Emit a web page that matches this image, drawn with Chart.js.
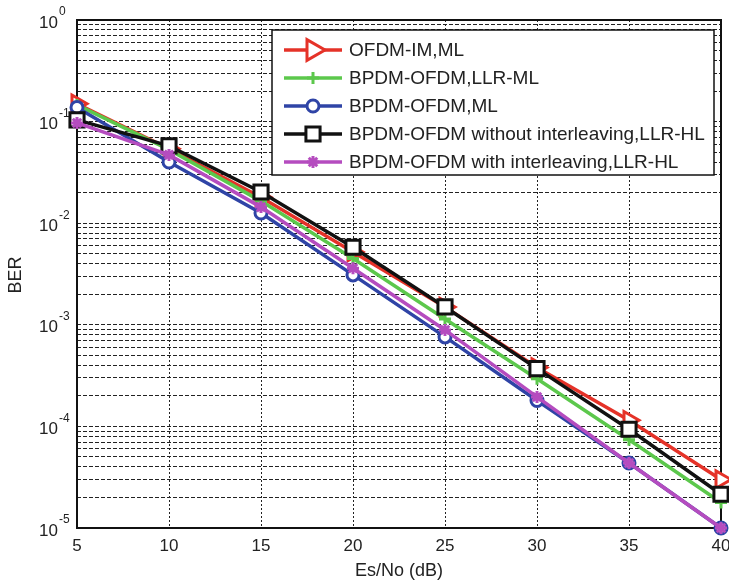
<!DOCTYPE html>
<html lang="en">
<head>
    <meta charset="UTF-8">
    <title>BER vs Es/No</title>
    <script src="https://cdn.jsdelivr.net/npm/chart.js@4/dist/chart.umd.min.js"></script>
    <style>
        body { margin: 0; background: #fff; }
        canvas { display: block; }
    </style>
</head>
<body>
    <canvas id="berChart" width="729" height="586"></canvas>

    <script>
        // data
        const snrDb = [5, 10, 15, 20, 25, 30, 35, 40];
        const seriesNames = [
            "OFDM-IM,ML",
            "BPDM-OFDM,LLR-ML",
            "BPDM-OFDM,ML",
            "BPDM-OFDM without interleaving,LLR-HL",
            "BPDM-OFDM with interleaving,LLR-HL"
        ];
        const berOfdmIm   = [0.150, 0.054, 0.018, 0.0052, 0.0015, 0.00038, 0.000115, 0.000030];
        const berLlrMl    = [0.146, 0.053, 0.0165, 0.0045, 0.00114, 0.000294, 0.000074, 0.0000178];
        const berMl       = [0.138, 0.040, 0.0126, 0.0031, 0.00076, 0.00018, 0.0000436, 0.000010];
        const berNoIntlv  = [0.104, 0.0576, 0.0203, 0.0058, 0.0015, 0.00037, 0.0000937, 0.0000215];
        const berIntlv    = [0.097, 0.047, 0.0144, 0.0036, 0.00089, 0.000195, 0.0000436, 0.000010];
        const xTicks = [5, 10, 15, 20, 25, 30, 35, 40];
        const yDecades = [0, -1, -2, -3, -4, -5];

        const FONT = '"Liberation Sans", Arial, sans-serif';

        const toPoints = ys => snrDb.map((x, i) => ({ x: x, y: ys[i] }));

        const styles = [
            { color: '#e53228', point: 'triangle', rot: 90, r: 10, fill: '#fff' },
            { color: '#5cc84c', point: 'cross', rot: 0, r: 6, fill: '#5cc84c' },
            { color: '#2f44a6', point: 'circle', rot: 0, r: 6, fill: '#fff' },
            { color: '#111111', point: 'rect', rot: 0, r: 10, fill: '#fff' },
            { color: '#b54cbf', point: 'star', rot: 0, r: 6, fill: '#b54cbf' }
        ];
        const allSeries = [berOfdmIm, berLlrMl, berMl, berNoIntlv, berIntlv];

        const datasets = allSeries.map((ys, i) => ({
            label: seriesNames[i],
            data: toPoints(ys),
            borderColor: styles[i].color,
            backgroundColor: styles[i].color,
            borderWidth: 3.5,
            pointStyle: styles[i].point,
            pointRotation: styles[i].rot,
            pointRadius: styles[i].r,
            pointBorderWidth: 3,
            pointBorderColor: styles[i].color,
            pointBackgroundColor: styles[i].fill,
            tension: 0,
            clip: false,
            order: 5 - i   // later series on top like matlab
        }));

        // frame, y labels, axis titles and legend
        const decor = {
            id: 'decor',
            beforeDatasetsDraw(chart) {
                const ctx = chart.ctx;
                const a = chart.chartArea;
                ctx.save();
                ctx.strokeStyle = '#111';
                ctx.lineWidth = 2;
                ctx.strokeRect(a.left, a.top, a.right - a.left, a.bottom - a.top);
                ctx.restore();
            },
            afterDatasetsDraw(chart) {
                const ctx = chart.ctx;
                const a = chart.chartArea;
                const ys = chart.scales.y;
                ctx.save();

                // y tick labels 10^k
                ctx.fillStyle = '#222';
                ctx.textBaseline = 'middle';
                yDecades.forEach(k => {
                    const py = ys.getPixelForValue(Math.pow(10, k));
                    ctx.font = '17px ' + FONT;
                    ctx.textAlign = 'left';
                    ctx.fillText('10', 39, py + 3);
                    ctx.font = '12px ' + FONT;
                    ctx.fillText(k === 0 ? '0' : '-' + Math.abs(k), 59, py - 8);
                });

                // axis titles
                ctx.font = '18px ' + FONT;
                ctx.textAlign = 'center';
                ctx.fillText('Es/No (dB)', (a.left + a.right) / 2, 571);
                ctx.save();
                ctx.translate(16, 275);
                ctx.rotate(-Math.PI / 2);
                ctx.fillText('BER', 0, 0);
                ctx.restore();

                // legend
                const lx = 272, ly = 30, lw = 442, lh = 145;
                ctx.fillStyle = '#fff';
                ctx.fillRect(lx, ly, lw, lh);
                ctx.strokeStyle = '#111';
                ctx.lineWidth = 1.5;
                ctx.strokeRect(lx, ly, lw, lh);
                chart.data.datasets.forEach((ds, i) => {
                    const cy = 50 + i * 28;
                    ctx.strokeStyle = ds.borderColor;
                    ctx.lineWidth = 3.5;
                    ctx.beginPath();
                    ctx.moveTo(284, cy);
                    ctx.lineTo(342, cy);
                    ctx.stroke();
                    ctx.fillStyle = ds.pointBackgroundColor;
                    ctx.strokeStyle = ds.borderColor;
                    ctx.lineWidth = 3;
                    Chart.helpers.drawPoint(ctx, {
                        pointStyle: ds.pointStyle,
                        rotation: ds.pointRotation,
                        radius: ds.pointStyle === 'triangle' ? 12 : ds.pointRadius,
                        borderWidth: 3
                    }, 313, cy);
                    ctx.fillStyle = '#222';
                    ctx.font = '19px ' + FONT;
                    ctx.textAlign = 'left';
                    ctx.fillText(ds.label, 349, cy + 1);
                });
                ctx.restore();
            }
        };

        new Chart(document.getElementById('berChart'), {
            type: 'line',
            data: { datasets: datasets },
            options: {
                responsive: false,
                animation: false,
                layout: {
                    autoPadding: false,
                    padding: { top: 20, right: 8, left: 0, bottom: 0 }
                },
                plugins: {
                    legend: { display: false },
                    tooltip: { enabled: false }
                },
                scales: {
                    x: {
                        type: 'linear',
                        min: 5,
                        max: 40,
                        afterBuildTicks: s => { s.ticks = xTicks.map(v => ({ value: v })); },
                        afterFit: s => {
                            s.height = 58;
                            s.paddingLeft = 0;
                            s.paddingRight = 0;
                        },
                        ticks: {
                            color: '#222',
                            font: { size: 17, family: FONT },
                            padding: 8,
                            maxRotation: 0
                        },
                        grid: { color: '#222', lineWidth: 1, drawTicks: false },
                        border: { display: false, dash: [2, 2] }
                    },
                    y: {
                        type: 'logarithmic',
                        min: 1e-5,
                        max: 1,
                        afterBuildTicks: s => {
                            const t = [];
                            for (let k = -5; k <= 0; k++) {
                                for (let m = 1; m <= 9; m++) {
                                    const v = m * Math.pow(10, k);
                                    if (v <= 1.0000001) t.push({ value: v });
                                }
                            }
                            s.ticks = t;
                        },
                        afterFit: s => { s.width = 77; },
                        ticks: { display: false },
                        grid: { color: '#222', lineWidth: 1, drawTicks: false },
                        border: { display: false, dash: [4, 2] }
                    }
                }
            },
            plugins: [decor]
        });
    </script>
</body>
</html>
